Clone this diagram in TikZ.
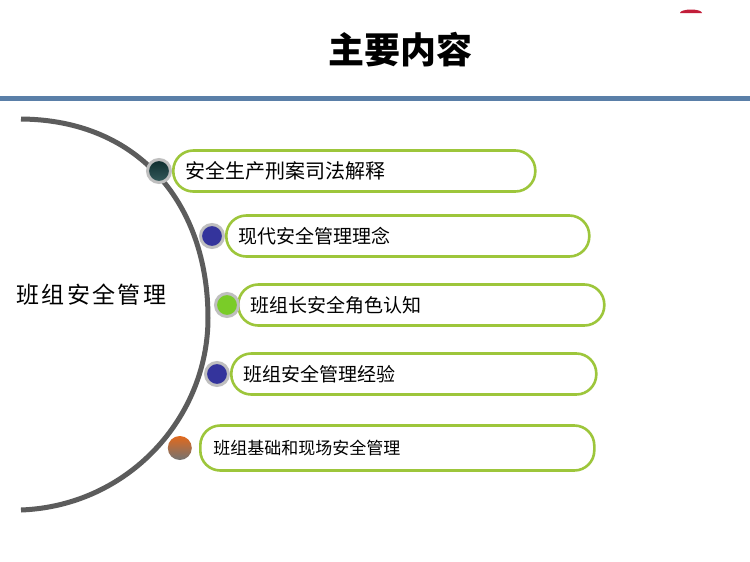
\documentclass[tikz,border=0pt]{standalone}
\usepackage{fontspec}
\newfontfamily\cjk{Noto Sans CJK SC}
\usetikzlibrary{positioning}
\definecolor{pillgreen}{HTML}{9DC63B}
\definecolor{barblue}{HTML}{5A7FA8}
\definecolor{arcgray}{HTML}{5C5C5C}
\definecolor{dotteal}{HTML}{123F40}
\definecolor{dotblue}{HTML}{34349C}
\definecolor{dotgreen}{HTML}{7ACC28}
\definecolor{dotorange}{HTML}{E2691C}
\definecolor{tipred}{HTML}{C21E3A}
\tikzset{
  pill/.style={draw=pillgreen,line width=2.6pt,rounded corners=20pt,minimum height=41pt,
    inner xsep=12pt,align=left,anchor=west,text width=#1},
  ring/.style={circle,draw=gray!50,line width=3pt,minimum size=23pt,inner sep=0pt},
}
\begin{document}
\begin{tikzpicture}[x=1pt,y=-1pt,font=\cjk]
\useasboundingbox (0,0) rectangle (750,562);
\fill[white] (0,0) rectangle (750,562);
% header
\node (title) at (400,50) {\fontsize{36}{40}\selectfont\bfseries 主要内容};
\fill[barblue] (0,96) rectangle (750,100.5);
\fill[tipred] (680,13) arc[start angle=180,end angle=360,x radius=11,y radius=3.5] -- cycle;
%
\draw[arcgray,line width=5pt] (21,119) .. controls (140,120) and (208,205) .. (208,318)
  .. controls (208,418) and (128,506) .. (21,510);
\node (main) [anchor=west] at (13,295) {\fontsize{23}{28}\selectfont\addfontfeature{LetterSpace=10}班组安全管理};
%
\node (p1) [pill=338pt] at (172,171) {\fontsize{20}{22}\selectfont 安全生产刑案司法解释};
\node (p2) [pill=339pt] at (225,236) {\fontsize{19}{22}\selectfont 现代安全管理理念};
\node (p3) [pill=342pt] at (237,305) {\fontsize{19}{22}\selectfont 班组长安全角色认知};
\node (p4) [pill=341pt] at (230,374) {\fontsize{19}{22}\selectfont 班组安全管理经验};
\node (p5) [pill=368pt,inner xsep=13pt,minimum height=45pt] at (199,448) {\fontsize{17}{20}\selectfont 班组基础和现场安全管理};
%
\node (d1) [ring,top color=dotteal!70!black,bottom color=dotteal!85] [left=0pt of p1] {};
\node (d2) [ring,fill=dotblue] [left=0pt of p2] {};
\node (d3) [ring,fill=dotgreen] [left=-3pt of p3] {};
\node (d4) [ring,fill=dotblue] [left=0pt of p4] {};
\node (d5) [circle,minimum size=24pt,top color=dotorange,bottom color=gray!90!black] [left=7pt of p5] {};
\end{tikzpicture}
\end{document}
